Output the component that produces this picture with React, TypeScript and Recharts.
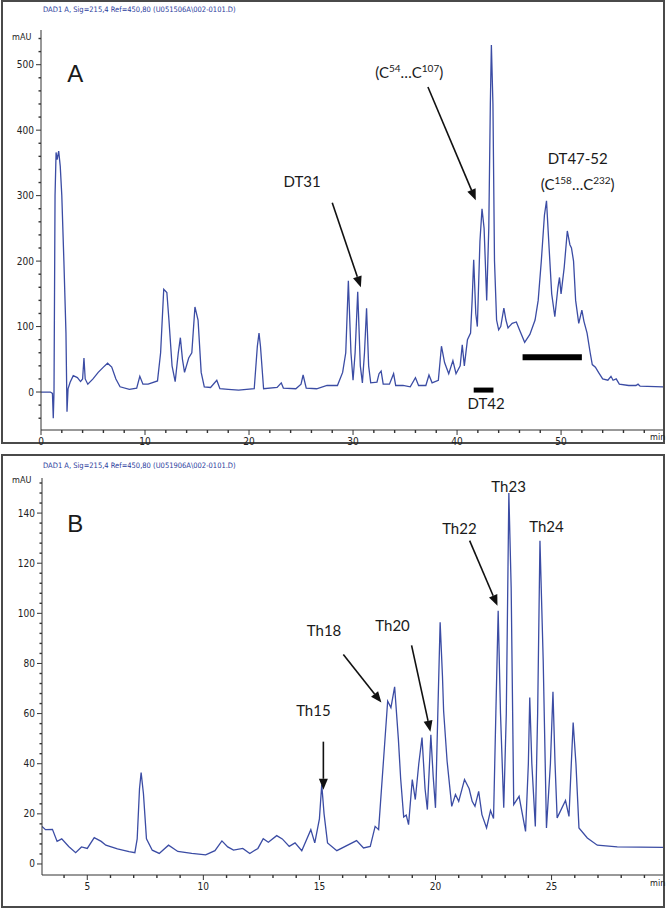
import React from 'react';
import { LineChart, Line, XAxis, YAxis, ReferenceLine, ReferenceDot } from 'recharts';

// Panel A – retention time (min) and absorbance (mAU)
const A_TIME = [
  0, 0.9, 1.1, 1.18, 1.25, 1.35, 1.45, 1.55, 1.7, 1.85, 2.0, 2.2, 2.4, 2.5, 2.6, 2.8, 3.1, 3.5, 3.8, 4.0,
  4.13, 4.25, 4.5, 5.0, 5.5, 6.0, 6.4, 6.8, 7.2, 7.6, 8.5, 9.2, 9.5, 9.8, 10.3, 11.2, 11.5, 11.8, 12.1, 12.3,
  12.6, 12.9, 13.2, 13.4, 13.6, 13.8, 14.2, 14.5, 14.8, 15.1, 15.4, 15.7, 16.3, 16.9, 17.2, 18, 19, 20.5, 20.8, 20.96,
  21.1, 21.4, 22.7, 23.1, 23.3, 24.5, 25.0, 25.2, 25.5, 26.5, 27.5, 28.5, 29.0, 29.3, 29.55, 29.8, 30.0, 30.2, 30.45, 30.7,
  30.9, 31.1, 31.3, 31.5, 31.7, 32.3, 32.5, 32.7, 32.9, 33.5, 33.9, 34.1, 34.8, 35.5, 36.0, 36.3, 37.0, 37.3, 37.6, 38.2,
  38.5, 38.8, 39.2, 39.6, 39.9, 40.3, 40.5, 40.7, 41.0, 41.3, 41.45, 41.6, 41.8, 41.95, 42.2, 42.4, 42.6, 42.85, 43.05, 43.2,
  43.3, 43.45, 43.6, 43.8, 44.0, 44.2, 44.5, 44.7, 44.9, 45.3, 45.7, 46.0, 46.5, 47.0, 47.5, 47.8, 48.1, 48.4, 48.6, 48.85,
  49.1, 49.4, 49.7, 49.85, 50.0, 50.3, 50.6, 50.85, 51.0, 51.2, 51.4, 51.7, 52.0, 52.2, 52.5, 52.8, 53.0, 53.3, 53.6, 54.0,
  54.5, 54.8, 55.0, 55.3, 55.6, 56.5, 57.2, 57.4, 57.6, 59.8,
];
const A_MAU = [
  0, 0, -2, -40, 0, 300, 366, 355, 368, 345, 300, 200, 90, -30, 5, 15, 25, 22, 16, 20,
  52, 20, 12, 20, 30, 38, 44, 38, 20, 8, 4, 6, 24, 12, 12, 17, 60, 157, 152, 110,
  40, 16, 60, 83, 50, 30, 52, 60, 130, 110, 30, 8, 7, 18, 5, 4, 3, 5, 70, 90,
  70, 5, 7, 14, 6, 5, 12, 26, 6, 5, 10, 10, 30, 60, 170, 60, 18, 60, 153, 40,
  14, 60, 128, 40, 14, 15, 28, 32, 12, 12, 28, 10, 10, 8, 22, 10, 10, 26, 14, 18,
  70, 45, 28, 48, 28, 40, 72, 40, 80, 90, 140, 202, 120, 100, 230, 280, 250, 140, 250, 440,
  530, 440, 200, 110, 95, 100, 128, 110, 98, 105, 107, 95, 76, 88, 110, 140, 200, 270, 292, 220,
  150, 115, 160, 175, 150, 190, 246, 225, 220, 200, 140, 105, 125, 108, 90, 60, 42, 38, 30, 20,
  18, 24, 18, 20, 12, 10, 10, 12, 9, 8,
];

// Panel B
const B_TIME = [
  3.05, 3.2, 3.5, 3.7, 3.9, 4.2, 4.5, 4.75, 5.0, 5.3, 5.6, 5.8, 6.3, 6.8, 7.05, 7.15, 7.25, 7.32, 7.42, 7.55,
  7.8, 8.1, 8.5, 8.9, 9.5, 10.1, 10.5, 10.8, 11.05, 11.3, 11.7, 12.0, 12.35, 12.58, 12.8, 13.16, 13.4, 13.7, 13.95, 14.24,
  14.63, 14.8, 15.0, 15.1, 15.2, 15.35, 15.75, 16.6, 16.9, 17.19, 17.4, 17.55, 17.75, 17.94, 18.08, 18.24, 18.4, 18.5, 18.63, 18.74,
  18.84, 19.0, 19.13, 19.28, 19.42, 19.55, 19.65, 19.8, 19.9, 20.0, 20.1, 20.2, 20.3, 20.35, 20.5, 20.7, 20.86, 21.0, 21.25, 21.45,
  21.58, 21.7, 21.86, 22.0, 22.2, 22.37, 22.5, 22.6, 22.7, 22.8, 22.94, 23.05, 23.16, 23.26, 23.37, 23.6, 23.88, 24.0, 24.06, 24.15,
  24.3, 24.4, 24.5, 24.64, 24.78, 24.95, 25.06, 25.15, 25.24, 25.6, 25.75, 25.85, 25.93, 26.05, 26.18, 26.54, 26.97, 27.83, 29.8,
];
const B_MAU = [
  15, 13.7, 13.8, 9, 10, 7, 4.5, 6.8, 6.2, 10.5, 9, 7.5, 6, 4.9, 4.5, 10, 30, 36.5, 28, 10,
  5.5, 4.2, 7.5, 5, 4.2, 3.6, 5.3, 9.2, 6.8, 5.5, 6.2, 4.2, 6.2, 10.1, 8.7, 11.3, 10, 7, 8.4, 5.3,
  13.7, 8.4, 18, 31.7, 20, 8.4, 5.3, 9.3, 6.4, 7, 15, 13.7, 40, 65, 62.4, 70.7, 50, 34, 18.7, 19.5,
  15.7, 33.7, 25.7, 40, 50.4, 30, 21.7, 51.5, 35, 22.4, 60, 96.4, 75, 61, 41, 23, 27.7, 25, 33.7, 30,
  25, 23, 29, 19.7, 14.4, 21.3, 18.1, 60, 101, 60, 22.4, 60, 148, 110, 23.7, 27, 13, 40, 66.4, 40,
  15, 60, 129, 81, 14.4, 40, 68.7, 40, 18.4, 25.3, 19, 40, 56.4, 40, 14.4, 10.4, 7.5, 6.8, 6.6,
];

const A_Y_TICKS = [-40, -20, 0, 20, 40, 60, 80, 100, 120, 140, 160, 180, 200, 220, 240, 260, 280, 300, 320, 340, 360, 380, 400, 420, 440, 460, 480, 500, 520, 540];
const A_X_TICKS = [0, 2, 4, 6, 8, 10, 12, 14, 16, 18, 20, 22, 24, 26, 28, 30, 32, 34, 36, 38, 40, 42, 44, 46, 48, 50, 52, 54, 56, 58];
const B_Y_TICKS = [0, 4, 8, 12, 16, 20, 24, 28, 32, 36, 40, 44, 48, 52, 56, 60, 64, 68, 72, 76, 80, 84, 88, 92, 96, 100, 104, 108, 112, 116, 120, 124, 128, 132, 136, 140, 144, 148, 152];
const B_X_TICKS = [4, 5, 6, 7, 8, 9, 10, 11, 12, 13, 14, 15, 16, 17, 18, 19, 20, 21, 22, 23, 24, 25, 26, 27, 28, 29];

const dataA = A_TIME.map((t, i) => ({ t, v: A_MAU[i] }));
const dataB = B_TIME.map((t, i) => ({ t, v: B_MAU[i] }));

const TRACE = '#3b4ca4';
const TICK_FONT = '"Liberation Sans Narrow", "DejaVu Sans Condensed", Arial, sans-serif';
const NOTE_FONT = 'Lato, "Open Sans", sans-serif';

function yTick(left: number, major: number) {
  return (p: any) => {
    const v = p.payload.value;
    const isMajor = Math.abs(v % major) < 1e-6;
    return (
      <g>
        <line x1={left - (isMajor ? 5 : 2.5)} x2={left} y1={p.y} y2={p.y} stroke="#333" strokeWidth={isMajor ? 1 : 1.4} />
        {isMajor && (
          <text x={left - 7} y={p.y + 3.5} textAnchor="end" fontSize={10} fontFamily={TICK_FONT} fill="#222">
            {v}
          </text>
        )}
      </g>
    );
  };
}

function xTick(bottom: number, major: number) {
  return (p: any) => {
    const v = p.payload.value;
    const isMajor = Math.abs(v % major) < 1e-6;
    return (
      <g>
        <line x1={p.x} x2={p.x} y1={bottom} y2={bottom + (isMajor ? 5 : 3)} stroke="#333" strokeWidth={isMajor ? 1 : 1.4} />
        {isMajor && (
          <text x={p.x} y={bottom + 15} textAnchor="middle" fontSize={10} fontFamily={TICK_FONT} fill="#222">
            {v}
          </text>
        )}
      </g>
    );
  };
}

function Arrow(p: any) {
  const { x1, y1, x2, y2 } = p;
  const ang = Math.atan2(y2 - y1, x2 - x1);
  const L = 11;
  const W = 4.5;
  const bx = x2 - L * Math.cos(ang);
  const by = y2 - L * Math.sin(ang);
  const px = -Math.sin(ang) * W;
  const py = Math.cos(ang) * W;
  return (
    <g>
      <line x1={x1} y1={y1} x2={bx} y2={by} stroke="#111" strokeWidth={1.6} />
      <polygon points={`${x2},${y2} ${bx + px},${by + py} ${bx - px},${by - py}`} fill="#111" />
    </g>
  );
}

function note(content: React.ReactNode, size = 15, font = NOTE_FONT) {
  return (p: any) => (
    <text x={p.cx} y={p.cy} textAnchor="middle" dominantBaseline="middle" fontSize={size} fontFamily={font} fill="#1a1a1a">
      {content}
    </text>
  );
}

// "(C^a…C^b)" with raised numbers
function range(a: string, b: string) {
  return (
    <>
      <tspan>(C</tspan>
      <tspan fontSize={10} dy={-5}>{a}</tspan>
      <tspan dy={5}>…C</tspan>
      <tspan fontSize={10} dy={-5}>{b}</tspan>
      <tspan dy={5}>)</tspan>
    </>
  );
}

const frame: React.CSSProperties = {
  position: 'absolute',
  left: 1,
  width: 664,
  boxSizing: 'border-box',
  border: '2px solid #4a4a4a',
  background: '#fff',
};
const title: React.CSSProperties = {
  position: 'absolute',
  left: 43,
  fontSize: 7.5,
  fontFamily: TICK_FONT,
  color: '#2a3c9c',
  whiteSpace: 'nowrap',
};
const small: React.CSSProperties = {
  position: 'absolute',
  fontSize: 9,
  fontFamily: TICK_FONT,
  color: '#222',
};

export default function App() {
  return (
    <div style={{ position: 'relative', width: 666, height: 909, background: '#fff', overflow: 'hidden' }}>
      <style>{'body{margin:0}'}</style>
      <div style={{ ...frame, top: 0, height: 444 }} />
      <div style={{ ...frame, top: 454, height: 454 }} />

      <div style={{ position: 'absolute', left: 0, top: 0 }}>
        <LineChart width={666} height={446} data={dataA} margin={{ top: 30, right: 3, left: 0, bottom: 0 }}>
          <XAxis
            dataKey="t"
            type="number"
            domain={[0, 59.8]}
            ticks={A_X_TICKS}
            interval={0}
            height={16}
            axisLine={{ stroke: '#333' }}
            tickLine={false}
            tick={xTick(430, 10)}
            allowDataOverflow
          />
          <YAxis
            type="number"
            domain={[-58, 553]}
            ticks={A_Y_TICKS}
            interval={0}
            width={41}
            axisLine={{ stroke: '#333' }}
            tickLine={false}
            tick={yTick(41, 100)}
            allowDataOverflow
          />
          <Line type="linear" dataKey="v" stroke={TRACE} strokeWidth={1.3} dot={false} isAnimationActive={false} />
          <ReferenceLine segment={[{ x: 46.3, y: 53 }, { x: 52.0, y: 53 }]} stroke="#000" strokeWidth={6} />
          <ReferenceLine segment={[{ x: 41.6, y: 3 }, { x: 43.5, y: 3 }]} stroke="#000" strokeWidth={5} />
          <ReferenceLine segment={[{ x: 28.0, y: 289 }, { x: 30.75, y: 160 }]} shape={Arrow} />
          <ReferenceLine segment={[{ x: 37.2, y: 466 }, { x: 41.8, y: 293 }]} shape={Arrow} />
          <ReferenceDot x={3.3} y={484} r={0} shape={note('A', 24, 'Liberation Sans, Arial, sans-serif')} />
          <ReferenceDot x={25.1} y={319} r={0} shape={note('DT31')} />
          <ReferenceDot x={35.4} y={486} r={0} shape={note(range('54', '107'))} />
          <ReferenceDot x={51.6} y={354} r={0} shape={note('DT47-52')} />
          <ReferenceDot x={51.6} y={314} r={0} shape={note(range('158', '232'))} />
          <ReferenceDot x={42.8} y={-20} r={0} shape={note('DT42')} />
        </LineChart>
      </div>

      <div style={{ position: 'absolute', left: 0, top: 450 }}>
        <LineChart width={666} height={459} data={dataB} margin={{ top: 28, right: 3, left: 0, bottom: 0 }}>
          <XAxis
            dataKey="t"
            type="number"
            domain={[3.05, 29.8]}
            ticks={B_X_TICKS}
            interval={0}
            height={34}
            axisLine={{ stroke: '#333' }}
            tickLine={false}
            tick={xTick(425, 5)}
            allowDataOverflow
          />
          <YAxis
            type="number"
            domain={[-4.4, 154]}
            ticks={B_Y_TICKS}
            interval={0}
            width={42}
            axisLine={{ stroke: '#333' }}
            tickLine={false}
            tick={yTick(42, 20)}
            allowDataOverflow
          />
          <Line type="linear" dataKey="v" stroke={TRACE} strokeWidth={1.3} dot={false} isAnimationActive={false} />
          <ReferenceLine segment={[{ x: 15.17, y: 48.8 }, { x: 15.17, y: 29.6 }]} shape={Arrow} />
          <ReferenceLine segment={[{ x: 16.03, y: 83.6 }, { x: 17.67, y: 64.4 }]} shape={Arrow} />
          <ReferenceLine segment={[{ x: 18.97, y: 87.2 }, { x: 19.78, y: 52.8 }]} shape={Arrow} />
          <ReferenceLine segment={[{ x: 21.47, y: 129 }, { x: 22.67, y: 103 }]} shape={Arrow} />
          <ReferenceDot x={4.48} y={135} r={0} shape={note('B', 24, 'Liberation Sans, Arial, sans-serif')} />
          <ReferenceDot x={14.74} y={60.4} r={0} shape={note('Th15')} />
          <ReferenceDot x={15.2} y={92.4} r={0} shape={note('Th18')} />
          <ReferenceDot x={18.15} y={94.4} r={0} shape={note('Th20')} />
          <ReferenceDot x={21.03} y={133} r={0} shape={note('Th22')} />
          <ReferenceDot x={23.15} y={150} r={0} shape={note('Th23')} />
          <ReferenceDot x={24.78} y={134} r={0} shape={note('Th24')} />
        </LineChart>
      </div>

      <div style={{ ...title, top: 5 }}>DAD1 A, Sig=215,4 Ref=450,80 (U051506A\002-0101.D)</div>
      <div style={{ ...small, left: 12, top: 32 }}>mAU</div>
      <div style={{ ...small, left: 650, top: 432 }}>min</div>

      <div style={{ ...title, top: 461 }}>DAD1 A, Sig=215,4 Ref=450,80 (U051906A\002-0101.D)</div>
      <div style={{ ...small, left: 12, top: 475 }}>mAU</div>
      <div style={{ ...small, left: 650, top: 878 }}>min</div>
    </div>
  );
}
